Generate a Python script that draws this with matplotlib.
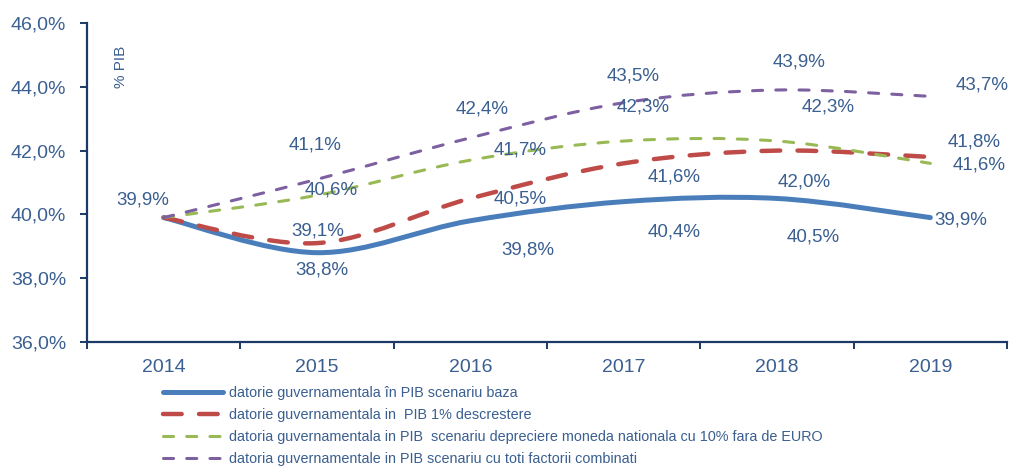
import numpy as np
import matplotlib
matplotlib.use('Agg')
import matplotlib.pyplot as plt
from matplotlib import font_manager
from matplotlib.path import Path
from matplotlib.patches import PathPatch
from matplotlib.lines import Line2D
from matplotlib.ticker import FixedLocator, FuncFormatter

# reference uses a narrow Arial; use a narrow face if one is installed
installed = set(f.name for f in font_manager.fontManager.ttflist)
if 'Liberation Sans Narrow' in installed:
    plt.rcParams['font.family'] = ['Liberation Sans Narrow', 'DejaVu Sans']
    k = 1.22
else:
    plt.rcParams['font.family'] = ['Liberation Sans', 'DejaVu Sans']
    k = 1.0

years = ['2014', '2015', '2016', '2017', '2018', '2019']
baza = [39.9, 38.8, 39.8, 40.4, 40.5, 39.9]
descrestere = [39.9, 39.1, 40.5, 41.6, 42.0, 41.8]
depreciere = [39.9, 40.6, 41.7, 42.3, 42.3, 41.6]
combinati = [39.9, 41.1, 42.4, 43.5, 43.9, 43.7]
names = [
    'datorie guvernamentala în PIB scenariu baza',
    'datorie guvernamentala in  PIB 1% descrestere',
    'datoria guvernamentala in PIB  scenariu depreciere moneda nationala cu 10% fara de EURO',
    'datoria guvernamentale in PIB scenariu cu toti factorii combinati',
]

txt_col = '#3A5F90'
axis_col = '#1C3A66'

# label offsets (pixels) relative to each point
offs = [
    [(-21, 18), (5, -17), (58, -29), (50, -30), (36, -39), (30, -2)],
    [None, (1, 12), (50, -1), (50, -14), (27, -31), (44, 15)],
    [None, (14, 5), (50, 10), (19, 34), (51, 34), (49, -2)],
    [None, (-2, 34), (12, 29), (9, 27), (22, 28), (52, 11)],
]
styles = [
    dict(color='#4A7EBB', lw=3.6, ls='-'),
    dict(color='#BE4B48', lw=3.2, ls=(0, (4.2, 3.9))),
    dict(color='#98B954', lw=2.2, ls=(0, (3.3, 4.3))),
    dict(color='#7D60A0', lw=2.2, ls=(0, (3.3, 4.3))),
]


def smooth_path(xs, ys):
    pts = np.column_stack([xs, ys]).astype(float)
    n = len(pts)
    verts = [pts[0]]
    codes = [Path.MOVETO]
    for i in range(n - 1):
        p0 = pts[i - 1] if i > 0 else pts[i]
        p1 = pts[i]
        p2 = pts[i + 1]
        p3 = pts[i + 2] if i + 2 < n else pts[i + 1]
        verts += [p1 + (p2 - p0) / 6, p2 - (p3 - p1) / 6, p2]
        codes += [Path.CURVE4] * 3
    return Path(verts, codes)


fig = plt.figure(figsize=(10.1, 4.68), dpi=100)
ax = fig.add_axes([87 / 1010, 1 - 342 / 468, (1007 - 87) / 1010, (342 - 23) / 468])

x = np.arange(len(years))
series = [baza, descrestere, depreciere, combinati]
handles = []
for s, st, off in zip(series, styles, offs):
    patch = PathPatch(smooth_path(x, s), fill=False, edgecolor=st['color'],
                      lw=st['lw'], linestyle=st['ls'], capstyle='round',
                      joinstyle='round')
    ax.add_patch(patch)
    for xi, v, o in zip(x, s, off):
        if o is None:
            continue
        ax.annotate(('%.1f%%' % v).replace('.', ','), (xi, v), xytext=o,
                    textcoords='offset pixels', ha='center', va='center',
                    fontsize=13.5 * k, color=txt_col)
    handles.append(Line2D([], [], color=st['color'], lw=st['lw'],
                          linestyle=st['ls'], dash_capstyle='round',
                          solid_capstyle='round'))

ax.set_xlim(-0.5, len(years) - 0.5)
ax.set_ylim(36, 46)
ax.yaxis.set_major_locator(FixedLocator(np.arange(36, 46.1, 2)))
ax.yaxis.set_major_formatter(FuncFormatter(lambda v, p: ('%.1f%%' % v).replace('.', ',')))
ax.xaxis.set_major_locator(FixedLocator(np.arange(-0.5, len(years), 1)))
ax.xaxis.set_major_formatter(FuncFormatter(lambda v, p: ''))
ax.xaxis.set_minor_locator(FixedLocator(x))
ax.set_xticklabels(years, minor=True)

for sp in ['top', 'right']:
    ax.spines[sp].set_visible(False)
for sp in ['left', 'bottom']:
    ax.spines[sp].set_color(axis_col)
    ax.spines[sp].set_linewidth(1.6)
ax.tick_params(axis='y', which='major', direction='out', length=5, width=1.4,
               color=axis_col, labelcolor=txt_col, labelsize=14 * k, pad=10)
ax.tick_params(axis='x', which='major', direction='out', length=5, width=1.4,
               color=axis_col)
ax.tick_params(axis='x', which='minor', length=0, labelcolor=txt_col,
               labelsize=14 * k, pad=12)

fig.text(121 / 1010, 1 - 67 / 468, '% PIB', rotation=90, ha='center',
         va='center', fontsize=11 * k, color=txt_col)

leg = fig.legend(handles, names, loc='upper left',
                 bbox_to_anchor=(163 / 1010, 1 - 386 / 468), frameon=False,
                 fontsize=10.4 * k, borderpad=0, borderaxespad=0,
                 handlelength=4.17 / k, handletextpad=0.42 / k,
                 labelspacing=0.55 / k)
for t in leg.get_texts():
    t.set_color(txt_col)

fig.savefig('out.png', dpi=100)
